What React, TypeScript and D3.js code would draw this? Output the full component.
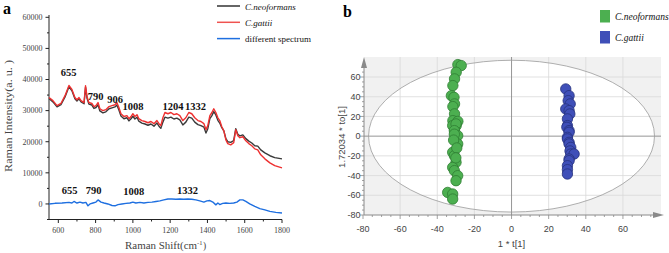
import React from "react";
import * as d3 from "d3";

// ---------- Panel a: Raman spectra ----------
const ramanShift = [550,571,593,614,636,657,673,689,700,711,722,738,746,754,764,780,791,802,813,823,839,855,872,888,904,914,925,936,952,968,979,990,1000,1011,1022,1032,1048,1065,1081,1097,1113,1129,1140,1150,1161,1172,1188,1204,1220,1236,1252,1268,1284,1300,1316,1332,1349,1365,1381,1392,1402,1413,1424,1434,1445,1456,1466,1477,1488,1499,1509,1525,1541,1552,1563,1574,1590,1606,1622,1638,1654,1670,1686,1708,1735,1761,1800];
const gattii = [34200,33200,31600,32300,34800,38100,36800,34200,33500,34200,33200,32600,38000,34500,32600,32300,31300,31600,32600,30600,30000,30300,31300,31600,31900,32600,31000,29000,28100,28400,27400,28100,29000,28100,28700,27400,26800,26500,26100,26500,25800,26800,25800,25200,27700,29400,29000,29400,28700,29000,28400,26800,27700,29400,29000,27700,26800,26500,25800,23900,25200,28400,29400,30600,29400,27700,26800,24800,23500,20600,19400,19000,19700,23900,21900,21300,21600,20300,19400,18700,17700,17400,15800,14500,13200,12300,11600];
const neoformans = [33900,32800,31200,31900,34400,37700,36400,33800,33100,33800,32800,32200,37500,34000,32100,31800,30700,31000,31900,29900,29300,29600,30600,30900,31200,31800,30200,28300,27400,27700,26700,27400,28200,27300,27900,26600,26000,25700,25300,25700,25000,26000,25000,24300,26300,27900,27600,27900,27300,27600,27000,25400,26300,27900,27600,26300,25500,25200,24700,22800,24200,27400,28400,29700,28600,26900,26000,24500,23500,21000,20000,19800,20400,24200,22400,21900,22200,21000,20200,19600,18700,18600,17400,16400,15500,14900,14500];
const diffShift = [550,582,620,657,673,684,700,716,732,748,759,770,786,802,813,829,845,866,888,904,920,941,963,984,1000,1016,1038,1059,1081,1102,1124,1145,1166,1188,1209,1231,1252,1273,1295,1316,1338,1359,1381,1397,1413,1429,1445,1456,1466,1482,1499,1520,1541,1558,1574,1590,1606,1627,1654,1681,1708,1735,1767,1800];
const diffSpectrum = [0,200,300,500,300,800,300,600,300,500,-600,0,300,600,1300,600,300,0,-500,-600,-200,0,200,300,600,300,500,300,500,600,800,1000,1300,1600,1600,1500,1600,1500,1600,1500,1300,1000,600,1000,1100,600,-300,300,-200,200,300,200,300,600,1300,1300,800,0,-800,-1500,-1900,-2400,-2700,-2900];
const xTicksA = [600, 800, 1000, 1200, 1400, 1600, 1800];
const yTicksA = [0, 10000, 20000, 30000, 40000, 50000, 60000];
const topPeaks = [
  { label: "655", at: 655, v: 41200 },
  { label: "790", at: 800, v: 33400 },
  { label: "906", at: 905, v: 32500 },
  { label: "1008", at: 1000, v: 30200 },
  { label: "1204", at: 1215, v: 30200 },
  { label: "1332", at: 1336, v: 30200 },
];
const bottomPeaks = [
  { label: "655", at: 660, v: 3200 },
  { label: "790", at: 790, v: 3200 },
  { label: "1008", at: 1005, v: 2900 },
  { label: "1332", at: 1293, v: 3200 },
];
const legendA = [
  { name: "C.neoformans", color: "#333333", italic: true },
  { name: "C.gattii", color: "#ef5350", italic: true },
  { name: "different spectrum", color: "#1e6fe0", italic: false },
];

// ---------- Panel b: OPLS-DA scores ----------
const neoT = [-28.9,-27.1,-29.8,-30.7,-31.6,-32.4,-31.0,-30.7,-31.6,-30.7,-31.6,-28.9,-29.8,-30.7,-31.7,-29.9,-30.8,-29.0,-29.0,-31.7,-30.8,-29.9,-31.7,-30.8,-29.0,-29.9,-34.4,-31.7,-31.7,-30.8,-31.2,-29.5,-30.0];
const neoTo = [72.6,71.6,64.8,58.1,51.3,41.1,39.4,32.7,30.0,22.6,15.7,15.0,10.7,7.3,10.7,12.4,5.6,0.5,-7.9,-16.4,-19.8,-26.6,-31.7,-35.0,-40.1,-45.2,-57.1,-58.7,-63.8,2.0,-4.0,-12.0,-22.0];
const gatT = [29.2,31.0,30.5,31.6,29.2,31.0,31.4,30.1,30.1,29.8,31.0,31.0,30.1,30.1,31.0,31.0,31.9,31.5,31.9,33.7,31.0,31.0,30.1,30.1,30.1];
const gatTo = [47.9,41.1,36.0,32.7,27.6,25.9,22.5,17.5,10.7,9.0,5.6,3.9,-1.2,-2.8,-6.3,-7.9,-11.4,-15.0,-18.1,-18.1,-23.2,-24.9,-30.0,-34.0,-38.4];
const ticksB = [-80, -60, -40, -20, 0, 20, 40, 60];
const ellipseRadius = 77;
const legendB = [
  { name: "C.neoformans", fill: "#4caf50" },
  { name: "C.gattii", fill: "#3f4fb8" },
];

const SERIF = "'Liberation Serif', 'Times New Roman', serif";
const SANS = "'Liberation Sans', Arial, sans-serif";

function PanelA() {
  const x = d3.scaleLinear().domain([550, 1800]).range([49, 282]);
  const y = d3.scaleLinear().domain([-5000, 60000]).range([219.5, 17.3]);
  const mk = (xs: number[], ys: number[]) =>
    d3.line<number>().x((_, i) => x(xs[i])).y((d) => y(d))(ys) || "";
  const minorX = d3.range(600, 1801, 100);
  const minorY = d3.range(-5000, 60001, 5000);
  return (
    <g>
      <text x={3} y={14} fontFamily={SERIF} fontWeight="bold" fontSize={16}>a</text>
      {/* legend */}
      {legendA.map((l, i) => (
        <g key={l.name}>
          <line x1={217} x2={240} y1={6 + i * 16.3} y2={6 + i * 16.3} stroke={l.color} strokeWidth={1.5} />
          <text x={245} y={9.5 + i * 16.3} fontFamily={SERIF} fontSize={9} fontStyle={l.italic ? "italic" : "normal"} fill="#111">{l.name}</text>
        </g>
      ))}
      {/* axes */}
      <line x1={49} x2={49} y1={15} y2={219.5} stroke="#222" />
      <line x1={49} x2={282} y1={219.5} y2={219.5} stroke="#222" />
      {minorY.map((v) => (
        <line key={"my" + v} x1={v % 10000 === 0 ? 45.5 : 47} x2={49} y1={y(v)} y2={y(v)} stroke="#222" />
      ))}
      {yTicksA.map((v) => (
        <text key={"ly" + v} x={42.5} y={y(v) + 2.8} textAnchor="end" fontFamily={SERIF} fontSize={8} fill="#444">{v}</text>
      ))}
      {minorX.map((v) => (
        <line key={"mx" + v} x1={x(v)} x2={x(v)} y1={219.5} y2={v % 200 === 0 ? 223 : 221.5} stroke="#222" />
      ))}
      {xTicksA.map((v) => (
        <text key={"lx" + v} x={x(v)} y={233} textAnchor="middle" fontFamily={SERIF} fontSize={8} fill="#444">{v}</text>
      ))}
      <text x={125} y={249} fontFamily={SERIF} fontSize={9.5} fill="#444" textLength={72} lengthAdjust="spacingAndGlyphs">Raman Shift(cm</text>
      <text x={197} y={245} fontFamily={SERIF} fontSize={6.5} fill="#444">-1</text>
      <text x={203} y={249} fontFamily={SERIF} fontSize={9.5} fill="#444">)</text>
      <text transform="translate(12,116) rotate(-90)" textAnchor="middle" fontFamily={SERIF} fontSize={9.5} fill="#444" textLength={112} lengthAdjust="spacingAndGlyphs">Raman Intensity(a. u. )</text>
      {/* spectra */}
      <path d={mk(ramanShift, neoformans)} fill="none" stroke="#3a3a3a" strokeWidth={1.4} strokeLinejoin="round" />
      <path d={mk(ramanShift, gattii)} fill="none" stroke="#ee3030" strokeWidth={1.4} strokeLinejoin="round" />
      <path d={mk(diffShift, diffSpectrum)} fill="none" stroke="#1e6fe0" strokeWidth={1.4} strokeLinejoin="round" />
      {topPeaks.map((p) => (
        <text key={"tp" + p.label} x={x(p.at)} y={y(p.v)} textAnchor="middle" fontFamily={SERIF} fontSize={10.5} fontWeight="bold" fill="#111">{p.label}</text>
      ))}
      {bottomPeaks.map((p) => (
        <text key={"bp" + p.label} x={x(p.at)} y={y(p.v)} textAnchor="middle" fontFamily={SERIF} fontSize={10.5} fontWeight="bold" fill="#111">{p.label}</text>
      ))}
    </g>
  );
}

function PanelB() {
  const x = d3.scaleLinear().domain([-80, 80.5]).range([363, 661]);
  const y = d3.scaleLinear().domain([-80, 80]).range([215, 57.3]);
  const x0 = 364, x1 = 661, yTop = 57, yBot = 215;
  const minor = d3.range(-80, 81, 5);
  const neo = neoT.map((t, i) => [t, neoTo[i]]);
  const gat = gatT.map((t, i) => [t, gatTo[i]]);
  const rx = x(ellipseRadius) - x(0);
  const ry = y(0) - y(ellipseRadius);
  return (
    <g>
      <text x={343} y={17} fontFamily={SERIF} fontWeight="bold" fontSize={16}>b</text>
      {legendB.map((l, i) => (
        <g key={l.name}>
          <rect x={600} y={10 + i * 21} width={10} height={12.5} fill={l.fill} />
          <text x={615} y={20 + i * 21} fontFamily={SERIF} fontStyle="italic" fontSize={9.5} fill="#111">{l.name}</text>
        </g>
      ))}
      <rect x={x0} y={yTop} width={x1 - x0} height={yBot - yTop} fill="#f1f1f1" />
      <ellipse cx={x(0)} cy={y(0)} rx={rx} ry={ry} fill="#ffffff" />
      {ticksB.filter((v) => v !== 0 && v !== -80).map((v) => (
        <g key={"g" + v}>
          <line x1={x(v)} x2={x(v)} y1={yTop} y2={yBot} stroke="#d9d9d9" strokeWidth={0.8} />
          <line x1={x0} x2={x1} y1={y(v)} y2={y(v)} stroke="#d9d9d9" strokeWidth={0.8} />
        </g>
      ))}
      <line x1={x(0)} x2={x(0)} y1={yTop} y2={yBot} stroke="#8a8a8a" strokeWidth={0.9} />
      <line x1={x0} x2={x1} y1={y(0)} y2={y(0)} stroke="#8a8a8a" strokeWidth={0.9} />
      <ellipse cx={x(0)} cy={y(0)} rx={rx} ry={ry} fill="none" stroke="#9a9a9a" strokeWidth={0.8} />
      {/* axes with arrows */}
      <line x1={x0} x2={x0} y1={yBot} y2={66} stroke="#8a8a8a" />
      <path d={`M${x0 - 3},${68} L${x0},${57} L${x0 + 3},${68} Z`} fill="#8a8a8a" />
      <line x1={x0} x2={655} y1={yBot} y2={yBot} stroke="#8a8a8a" />
      <path d={`M${653},${yBot - 3} L${664},${yBot} L${653},${yBot + 3} Z`} fill="#8a8a8a" />
      {minor.filter((v) => v <= 70).map((v) => (
        <line key={"ty" + v} x1={v % 20 === 0 ? x0 - 4 : x0 - 2} x2={x0} y1={y(v)} y2={y(v)} stroke="#8a8a8a" strokeWidth={0.8} />
      ))}
      {minor.filter((v) => v <= 75).map((v) => (
        <line key={"tx" + v} x1={x(v)} x2={x(v)} y1={yBot} y2={v % 20 === 0 ? yBot + 4 : yBot + 2} stroke="#8a8a8a" strokeWidth={0.8} />
      ))}
      {ticksB.map((v) => (
        <text key={"ly" + v} x={360.5} y={y(v) + 3.2} textAnchor="end" fontFamily={SANS} fontSize={9} fill="#444">{v}</text>
      ))}
      {ticksB.map((v) => (
        <text key={"lx" + v} x={x(v)} y={232} textAnchor="middle" fontFamily={SANS} fontSize={9} fill="#444">{v}</text>
      ))}
      <text x={x(0)} y={247} textAnchor="middle" fontFamily={SANS} fontSize={9.5} fill="#444">1 * t[1]</text>
      <text transform="translate(345,137) rotate(-90)" textAnchor="middle" fontFamily={SANS} fontSize={9.5} fill="#444">1.72034 * to[1]</text>
      {neo.map((p, i) => (
        <circle key={"n" + i} cx={x(p[0])} cy={y(p[1])} r={5.2} fill="#4caf50" stroke="#2e7d32" strokeWidth={0.8} />
      ))}
      {gat.map((p, i) => (
        <circle key={"c" + i} cx={x(p[0])} cy={y(p[1])} r={5.2} fill="#3f4fb8" stroke="#27327e" strokeWidth={0.8} />
      ))}
    </g>
  );
}

export default function App() {
  return (
    <svg width={669} height={253} style={{ position: "absolute", left: 0, top: 0, background: "#fff" }}>
      <rect width={669} height={253} fill="#fff" />
      <PanelA />
      <PanelB />
    </svg>
  );
}
